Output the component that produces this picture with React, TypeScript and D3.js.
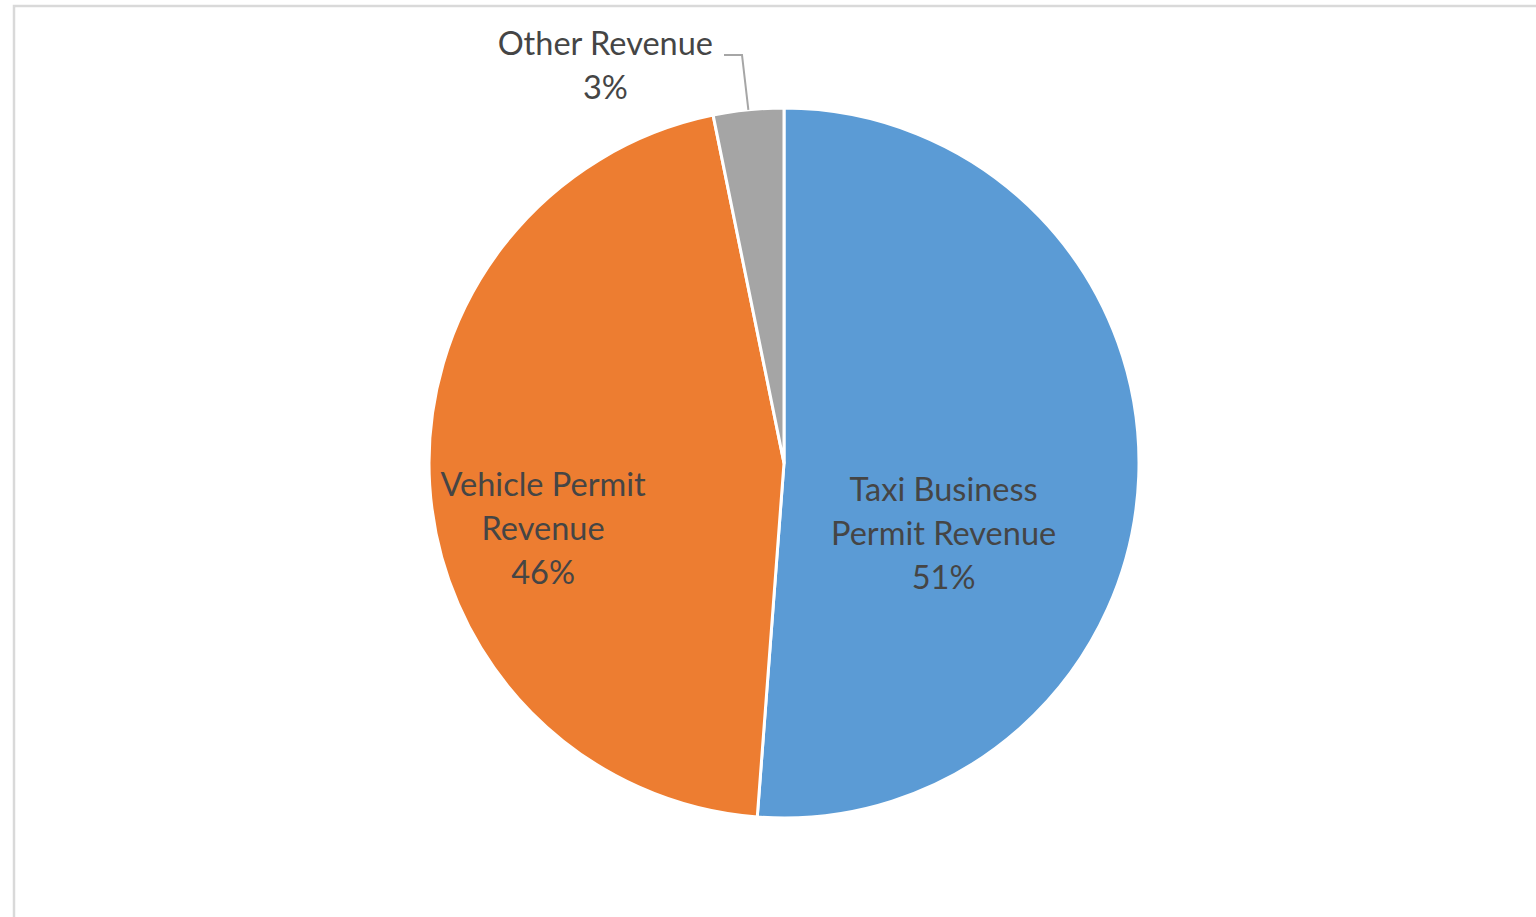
import React from "react";
import * as d3 from "d3";

const categories = ["Taxi Business Permit Revenue", "Vehicle Permit Revenue", "Other Revenue"];
const values = [51.2, 45.6, 3.2];
const labelLines = [["Taxi Business", "Permit Revenue"], ["Vehicle Permit", "Revenue"], ["Other Revenue"]];
const colors = ["#5B9BD5", "#ED7D31", "#A5A5A5"];

const W = 1536;
const H = 917;
const cx = 784;
const cy = 463;
const R = 355;
// label layout: center of label block relative to pie center (radius factor, dx, dy)
const labelLayout = [
  { r: 0.45, dx: 0, dy: 65 },
  { r: 0.68, dx: 0, dy: 50 },
  { r: 1.0, dx: -143, dy: -44 },
];
const LINE_H = 44;
const FONT = 32.5;

export default function App() {
  const pie = d3.pie<number>().sort(null).value((d) => d);
  const arcs = pie(values);
  const arc = d3.arc<d3.PieArcDatum<number>>().innerRadius(0).outerRadius(R);
  const pct = (v: number) => d3.format(".0%")(v / d3.sum(values));

  return (
    <svg width={W} height={H} style={{ position: "absolute", left: 0, top: 0 }}>
      <rect x={0} y={0} width={W} height={H} fill="#ffffff" />
      <rect x={14} y={6} width={W + 20} height={H + 20} fill="none" stroke="#d9d9d9" strokeWidth={2.5} />
      <g transform={`translate(${cx},${cy})`}>
        {arcs.map((a, i) => (
          <path key={categories[i]} d={arc(a) || ""} fill={colors[i]} stroke="#ffffff" strokeWidth={3} strokeLinejoin="round" />
        ))}
      </g>
      {arcs.map((a, i) => {
        const L = labelLayout[i];
        const mid = (a.startAngle + a.endAngle) / 2;
        const x = cx + Math.sin(mid) * R * L.r + L.dx;
        const y = cy - Math.cos(mid) * R * L.r + L.dy;
        const lines = [...labelLines[i], pct(a.value)];
        const top = y - ((lines.length - 1) * LINE_H) / 2;
        return (
          <text key={"t" + i} x={x} y={top} textAnchor="middle" fontFamily="Lato, 'Open Sans', sans-serif" fontSize={FONT} fill="#454545">
            {lines.map((s, j) => (
              <tspan key={j} x={x} y={top + j * LINE_H} dy="0.35em">{s}</tspan>
            ))}
          </text>
        );
      })}
      {(() => {
        const a = arcs[2];
        const mid = (a.startAngle + a.endAngle) / 2;
        const ex = cx + Math.sin(mid) * R;
        const ey = cy - Math.cos(mid) * R;
        return (
          <polyline points={`724,55 742,55 ${ex},${ey}`} fill="none" stroke="#a6a6a6" strokeWidth={2} />
        );
      })()}
    </svg>
  );
}
